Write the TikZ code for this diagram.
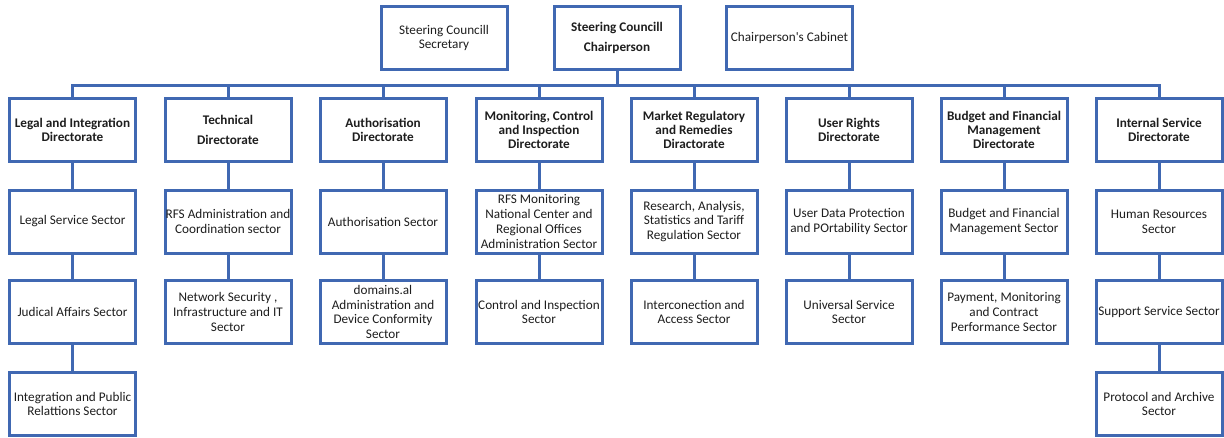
\documentclass[tikz,border=0pt]{standalone}
\usepackage{fontspec}
\setmainfont{Carlito}
\definecolor{boxblue}{RGB}{64,104,178}
\definecolor{ink}{RGB}{30,30,30}
\begin{document}
\begin{tikzpicture}[x=1pt,y=-1pt,
  orgbox/.style={draw=boxblue, line width=3pt, fill=white, minimum width=126pt,
    minimum height=63pt, inner sep=0pt, align=center, text=ink,
    font=\fontsize{13.2}{14.7}\selectfont},
  headbox/.style={orgbox, font=\fontsize{13.2}{14.2}\bfseries\selectfont},
  widehead/.style={orgbox, font=\fontsize{13.2}{20.5}\bfseries\selectfont},
  link/.style={draw=boxblue, line width=3pt}]
\useasboundingbox (0,0) rectangle (1224,437);

% top row
\node[orgbox]   (sec)   at (444,38)   {Steering Councill\\Secretary};
\node[widehead] (chair) at (617,38)   {Steering Councill\\Chairperson};
\node[orgbox]   (cab)   at (789.5,38) {Chairperson\textquotesingle s Cabinet};
\coordinate (bus) at (617,85);

% directorates
\node[headbox]  (d1) at (72.5,130) {Legal and Integration\\Directorate};
\node[widehead] (d2) at (228,130)  {Technical\\Directorate};
\node[headbox]  (d3) at (383,130)  {Authorisation\\Directorate};
\node[headbox]  (d4) at (539,130)  {Monitoring, Control\\and Inspection\\Directorate};
\node[headbox]  (d5) at (694,130)  {Market Regulatory\\and Remedies\\Diractorate};
\node[headbox]  (d6) at (849,130)  {User Rights\\Directorate};
\node[headbox]  (d7) at (1004,130) {Budget and Financial\\Management\\Directorate};
\node[headbox]  (d8) at (1159,130) {Internal Service\\Directorate};

% sectors, second level
\node[orgbox] (s1a) at (72.5,221.5) {Legal Service Sector};
\node[orgbox] (s2a) at (228,221.5)  {RFS Administration and\\Coordination sector};
\node[orgbox] (s3a) at (383,221.5)  {Authorisation Sector};
\node[orgbox] (s4a) at (539,221.5)  {RFS Monitoring\\National Center and\\Regional Offices\\Administration Sector};
\node[orgbox] (s5a) at (694,221.5)  {Research, Analysis,\\Statistics and Tariff\\Regulation Sector};
\node[orgbox] (s6a) at (849,221.5)  {User Data Protection\\and POrtability Sector};
\node[orgbox] (s7a) at (1004,221.5) {Budget and Financial\\Management Sector};
\node[orgbox] (s8a) at (1159,221.5) {Human Resources\\Sector};

% sectors, third level
\node[orgbox] (s1b) at (72.5,312) {Judical Affairs Sector};
\node[orgbox] (s2b) at (228,312)  {Network Security ,\\Infrastructure and IT\\Sector};
\node[orgbox] (s3b) at (383,312)  {domains.al\\Administration and\\Device Conformity\\Sector};
\node[orgbox] (s4b) at (539,312)  {Control and Inspection\\Sector};
\node[orgbox] (s5b) at (694,312)  {Interconection and\\Access Sector};
\node[orgbox] (s6b) at (849,312)  {Universal Service\\Sector};
\node[orgbox] (s7b) at (1004,312) {Payment, Monitoring\\and Contract\\Performance Sector};
\node[orgbox] (s8b) at (1159,312) {Support Service Sector};

% sectors, fourth level
\node[orgbox] (s1c) at (72.5,404) {Integration and Public\\Relattions Sector};
\node[orgbox] (s8c) at (1159,404) {Protocol and Archive\\Sector};

% connectors
\begin{scope}[on background layer/.try]
\draw[link] (chair.south) -- (bus);
\foreach \d in {d1,d2,d3,d4,d5,d6,d7,d8}
  \draw[link] (\d.north) |- (bus);
\foreach \i in {1,...,8}{
  \draw[link] (d\i.south) -- (s\i a.north);
  \draw[link] (s\i a.south) -- (s\i b.north);
}
\draw[link] (s1b.south) -- (s1c.north);
\draw[link] (s8b.south) -- (s8c.north);
\end{scope}
\end{tikzpicture}
\end{document}
